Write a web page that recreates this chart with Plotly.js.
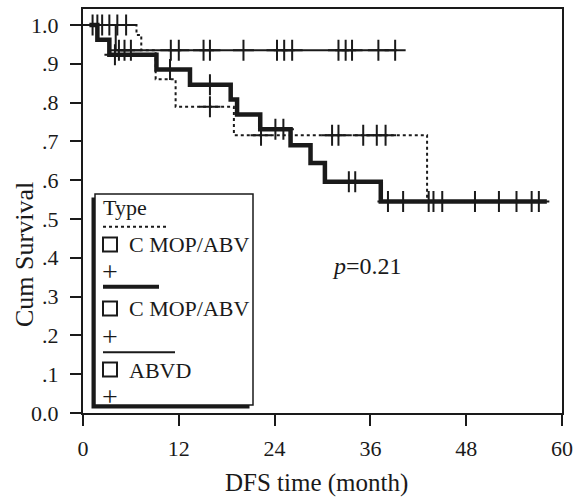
<!DOCTYPE html>
<html>
<head>
<meta charset="utf-8">
<script src="https://cdn.plot.ly/plotly-3.0.1.min.js"></script>
<style>html,body{margin:0;padding:0;background:#fff;}#chart{width:581px;height:498px;}</style>
</head>
<body>
<div id="chart"></div>
<script>
// ---- Data ----
// Series 1: C MOP/ABV (dotted line)
const dotTime = [0.5, 6.7, 7.3, 9.1, 11.6, 18.9, 43.1, 54.3];
const dotSurv = [1.0, 0.974, 0.935, 0.86, 0.789, 0.716, 0.545, 0.545];
const dotCensTime = [1.8, 4.3, 5.4, 15.9, 22.3, 31.2, 32.0, 35.1, 36.8, 37.9, 43.9, 45.0, 49.1, 54.3];
const dotCensSurv = [1.0, 1.0, 1.0, 0.789, 0.716, 0.716, 0.716, 0.716, 0.716, 0.716, 0.545, 0.545, 0.545, 0.545];

// Series 2: C MOP/ABV (thick line)
const thickTime = [0.8, 1.8, 3.3, 9.2, 13.4, 18.5, 19.3, 22.2, 26.0, 28.5, 30.3, 37.3, 58.1];
const thickSurv = [1.0, 0.962, 0.923, 0.885, 0.846, 0.808, 0.769, 0.731, 0.69, 0.644, 0.596, 0.545, 0.545];
const thickCensTime = [4.0, 10.9, 15.9, 24.1, 25.1, 33.3, 34.1, 38.2, 40.1, 43.3, 52.1, 56.2, 57.1];
const thickCensSurv = [0.923, 0.885, 0.846, 0.731, 0.731, 0.596, 0.596, 0.545, 0.545, 0.545, 0.545, 0.545, 0.545];

// Series 3: ABVD (thin line)
const thinTime = [0.5, 4.1, 39.3];
const thinSurv = [1.0, 0.935, 0.935];
const thinCensTime = [1.2, 2.4, 3.3, 4.5, 5.2, 6.0, 11.0, 12.0, 15.1, 15.9, 20.1, 24.3, 25.2, 26.2, 32.0, 32.9, 33.7, 37.0, 39.1];
const thinCensSurv = [1.0, 1.0, 1.0, 0.935, 0.935, 0.935, 0.935, 0.935, 0.935, 0.935, 0.935, 0.935, 0.935, 0.935, 0.935, 0.935, 0.935, 0.935, 0.935];

// Axis ticks
const xTicks = [0, 12, 24, 36, 48, 60];
const yTicks = [0, 0.1, 0.2, 0.3, 0.4, 0.5, 0.6, 0.7, 0.8, 0.9, 1.0];
const yTickText = ["0.0", ".1", ".2", ".3", ".4", ".5", ".6", ".7", ".8", ".9", "1.0"];

// Text
const xTitle = "DFS time (month)";
const yTitle = "Cum Survival";
const legendTitle = "Type";
const legendNames = ["C MOP/ABV", "C MOP/ABV", "ABVD"];
const pText = "<i>p</i>=0.21";

// ---- Layout helpers ----
const W0 = 581, H0 = 498;
const M = {l: 83, r: 19, t: 9, b: 85};
const PW = W0 - M.l - M.r, PH = H0 - M.t - M.b;
const px = v => (v - M.l) / PW;
const py = v => 1 - (v - M.t) / PH;
const FONT = "Liberation Serif, Times New Roman, serif";
const INK = '#1a1a1a';

function censTrace(t, s) {
  return {x: t, y: s, type: 'scatter', mode: 'markers', hoverinfo: 'skip', showlegend: false,
    marker: {symbol: 'cross-thin', size: 15, color: INK, line: {color: INK, width: 2}}};
}

const traces = [
  {x: dotTime, y: dotSurv, type: 'scatter', mode: 'lines', line: {shape: 'hv', color: INK, width: 2, dash: 'dot'}, showlegend: false},
  {x: thinTime, y: thinSurv, type: 'scatter', mode: 'lines', line: {shape: 'hv', color: INK, width: 2}, showlegend: false},
  {x: thickTime, y: thickSurv, type: 'scatter', mode: 'lines', line: {shape: 'hv', color: INK, width: 4.5}, showlegend: false},
  censTrace(dotCensTime, dotCensSurv),
  censTrace(thickCensTime, thickCensSurv),
  censTrace(thinCensTime, thinCensSurv)
];

// Custom SPSS-style legend box
const shapes = [
  {type: 'rect', xref: 'paper', yref: 'paper', x0: px(91.5), x1: px(249.5), y0: py(197.5), y1: py(408.5), fillcolor: INK, line: {width: 0}, layer: 'above'},
  {type: 'rect', xref: 'paper', yref: 'paper', x0: px(95), x1: px(253), y0: py(194), y1: py(405), fillcolor: '#fff', line: {color: INK, width: 1.5}, layer: 'above'},
  {type: 'line', xref: 'paper', yref: 'paper', x0: px(103), x1: px(168), y0: py(226.7), y1: py(226.7), line: {color: INK, width: 2, dash: 'dot'}, layer: 'above'},
  {type: 'line', xref: 'paper', yref: 'paper', x0: px(103), x1: px(159), y0: py(286.7), y1: py(286.7), line: {color: INK, width: 4}, layer: 'above'},
  {type: 'line', xref: 'paper', yref: 'paper', x0: px(103), x1: px(175), y0: py(352.3), y1: py(352.3), line: {color: INK, width: 2}, layer: 'above'}
];
const sqY = [244.5, 308.5, 369.5];
sqY.forEach(c => shapes.push({type: 'rect', xref: 'paper', yref: 'paper', x0: px(103), x1: px(117), y0: py(c + 7), y1: py(c - 7), line: {color: INK, width: 2}, fillcolor: 'rgba(0,0,0,0)', layer: 'above'}));

const annotations = [
  {text: yTitle, xref: 'paper', yref: 'paper', x: px(24), y: py(255), textangle: -90, showarrow: false, xanchor: 'center', yanchor: 'middle', font: {family: FONT, size: 26, color: INK}},
  {text: xTitle, xref: 'paper', yref: 'paper', x: px(316), y: py(483), showarrow: false, xanchor: 'center', yanchor: 'middle', font: {family: FONT, size: 25, color: INK}},
  {text: pText, xref: 'paper', yref: 'paper', x: px(367), y: py(266), showarrow: false, xanchor: 'center', yanchor: 'middle', font: {family: FONT, size: 24, color: INK}},
  {text: legendTitle, xref: 'paper', yref: 'paper', x: px(101), y: py(207), showarrow: false, xanchor: 'left', yanchor: 'middle', font: {family: FONT, size: 22, color: INK}}
];
const nameY = [245, 308.5, 370];
const plusY = [271.7, 336, 396];
legendNames.forEach((n, i) => {
  annotations.push({text: n, xref: 'paper', yref: 'paper', x: px(127), y: py(nameY[i]), showarrow: false, xanchor: 'left', yanchor: 'middle', font: {family: FONT, size: 22, color: INK}});
  annotations.push({text: '+', xref: 'paper', yref: 'paper', x: px(100), y: py(plusY[i]), showarrow: false, xanchor: 'left', yanchor: 'middle', font: {family: FONT, size: 28, color: INK}});
});

const axisCommon = {showgrid: false, zeroline: false, showline: true, linecolor: INK, linewidth: 2, mirror: true,
  ticks: 'outside', ticklen: 11, tickwidth: 2, tickcolor: INK, tickfont: {family: FONT, size: 22, color: INK}};

const layout = {
  width: W0, height: H0, margin: M, paper_bgcolor: '#fff', plot_bgcolor: '#fff',
  showlegend: false,
  xaxis: Object.assign({}, axisCommon, {range: [0, 60], tickvals: xTicks, ticktext: xTicks.map(String), ticklabelstandoff: 4}),
  yaxis: Object.assign({}, axisCommon, {range: [0, 1.041], tickvals: yTicks, ticktext: yTickText, ticklabelstandoff: 7}),
  shapes: shapes, annotations: annotations
};

Plotly.newPlot('chart', traces, layout, {staticPlot: true, displayModeBar: false});
</script>
</body>
</html>
